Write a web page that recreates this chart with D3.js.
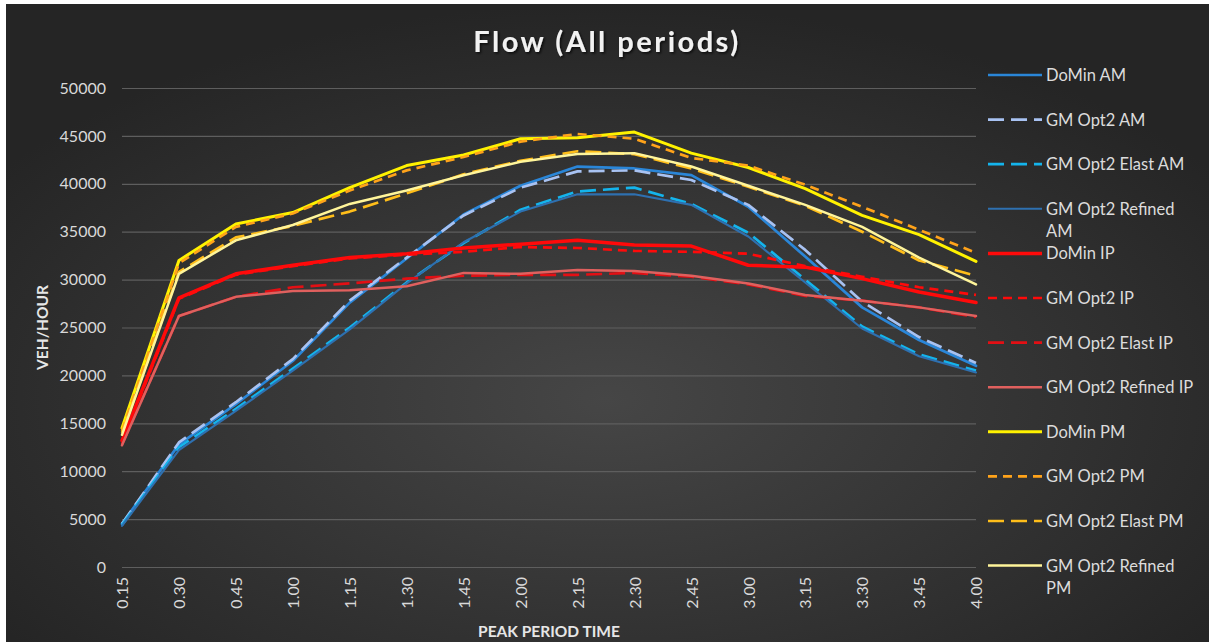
<!DOCTYPE html>
<html>
<head>
<meta charset="utf-8">
<script src="https://cdn.jsdelivr.net/npm/d3@7"></script>
<style>
  html, body { margin: 0; padding: 0; background: #ffffff; }
  svg { display: block; }
  text { font-family: Lato, "Open Sans", sans-serif; }
</style>
</head>
<body>
<svg id="chart" width="1209" height="642"></svg>
<script>
// ---------- DATA ----------
const categories = ["0.15","0.30","0.45","1.00","1.15","1.30","1.45","2.00","2.15","2.30","2.45","3.00","3.15","3.30","3.45","4.00"];
const yTicks = [0,5000,10000,15000,20000,25000,30000,35000,40000,45000,50000];

const seriesNames = ["DoMin AM","GM Opt2 AM","GM Opt2 Elast AM","GM Opt2 Refined AM",
                     "DoMin IP","GM Opt2 IP","GM Opt2 Elast IP","GM Opt2 Refined IP",
                     "DoMin PM","GM Opt2 PM","GM Opt2 Elast PM","GM Opt2 Refined PM"];

const doMinAM      = [4500,12800,17000,21500,27600,32200,36800,39800,41800,41600,40900,37600,32400,27100,23700,21000];
const opt2AM       = [4500,13000,17200,21700,27800,32300,36700,39600,41300,41400,40400,37800,33100,27700,24000,21300];
const opt2ElastAM  = [4400,12500,16500,20700,25000,29700,33800,37300,39200,39600,37900,34900,30000,25100,22200,20500];
const opt2RefAM    = [4300,12200,16300,20500,24800,29600,33900,37100,38900,38900,37800,34500,29700,24900,22000,20300];

const doMinIP      = [13200,28100,30600,31500,32300,32700,33300,33700,34100,33600,33500,31500,31300,30100,28700,27600];
const opt2IP       = [13000,28000,30500,31400,32200,32600,32900,33400,33300,33000,32900,32700,31400,30300,29200,28400];
const opt2ElastIP  = [12800,26200,28200,29200,29600,30100,30400,30500,30500,30700,30300,29500,28300,27800,27100,26100];
const opt2RefIP    = [12700,26200,28200,28800,28900,29300,30700,30600,31000,30900,30400,29600,28400,27800,27100,26200];

const doMinPM      = [14500,32000,35800,37000,39600,41900,43000,44700,44800,45400,43200,41700,39500,36700,34700,31900];
const opt2PM       = [14200,31700,35500,36900,39300,41400,42800,44400,45200,44700,42700,41900,39900,37600,35200,32800];
const opt2ElastPM  = [14000,30800,34400,35600,37100,39000,41000,42400,43400,43100,41600,39700,37700,35000,32000,30400];
const opt2RefPM    = [13800,30600,34100,35700,37900,39300,40900,42300,43100,43200,41800,39800,37800,35500,32300,29500];

const seriesValues = [doMinAM, opt2AM, opt2ElastAM, opt2RefAM,
                      doMinIP, opt2IP, opt2ElastIP, opt2RefIP,
                      doMinPM, opt2PM, opt2ElastPM, opt2RefPM];

// ---------- STYLES ----------
const styles = [
  {color:"#2A86D8", width:2.7, dash:null},
  {color:"#A8C2F2", width:2.7, dash:"16,7"},
  {color:"#14B4EC", width:2.7, dash:"16,7"},
  {color:"#2E70B0", width:2.1, dash:null},
  {color:"#FF0A0A", width:3.5, dash:null},
  {color:"#FF0A0A", width:2.7, dash:"9,6"},
  {color:"#E30F14", width:2.7, dash:"16,7"},
  {color:"#E0605E", width:2.5, dash:null},
  {color:"#FFF200", width:3.0, dash:null},
  {color:"#FFA31A", width:2.7, dash:"9,6"},
  {color:"#FFBE1A", width:2.7, dash:"16,7"},
  {color:"#FFF59A", width:2.5, dash:null}
];

// ---------- CHART ----------
const svg = d3.select("#chart");
const W = 1209, H = 642;
const plot = {left:122, right:976, top:88, bottom:567};

const defs = svg.append("defs");
const grad = defs.append("radialGradient").attr("id","bg")
  .attr("cx","50%").attr("cy","62%").attr("r","62%");
grad.append("stop").attr("offset","0%").attr("stop-color","#464646");
grad.append("stop").attr("offset","100%").attr("stop-color","#252525");
const shadow = defs.append("filter").attr("id","tshadow").attr("x","-10%").attr("y","-30%").attr("width","120%").attr("height","160%");
shadow.append("feDropShadow").attr("dx",1.5).attr("dy",1.5).attr("stdDeviation",1.2).attr("flood-color","#000").attr("flood-opacity",0.7);

svg.append("rect").attr("x",0).attr("y",0).attr("width",W).attr("height",H).attr("fill","#ffffff");
svg.append("rect").attr("x",6).attr("y",4).attr("width",W-6).attr("height",H-4).attr("fill","url(#bg)");

const x = d3.scalePoint().domain(categories).range([plot.left, plot.right]);
const y = d3.scaleLinear().domain([0,50000]).range([plot.bottom, plot.top]);

// gridlines
const grid = svg.append("g").attr("transform",`translate(${plot.left},0)`)
  .call(d3.axisLeft(y).tickValues(yTicks).tickSize(-(plot.right-plot.left)).tickFormat(""));
grid.select(".domain").remove();
grid.selectAll("line").attr("stroke","#5e5e5e").attr("stroke-width",1.2);

// y labels
const yAxis = svg.append("g").attr("transform",`translate(${plot.left},0)`)
  .call(d3.axisLeft(y).tickValues(yTicks).tickSize(0).tickPadding(16).tickFormat(d3.format("d")));
yAxis.select(".domain").remove();
yAxis.selectAll("text").attr("fill","#d9d9d9").style("font-size","16px").style("font-family","Lato, sans-serif");

// x labels
const xAxis = svg.append("g").attr("transform",`translate(0,${plot.bottom})`)
  .call(d3.axisBottom(x).tickSize(0));
xAxis.select(".domain").remove();
xAxis.selectAll("text")
  .attr("fill","#d9d9d9").style("font-size","16px").style("font-family","Lato, sans-serif")
  .attr("text-anchor","end")
  .attr("transform","rotate(-90)")
  .attr("x",-10).attr("y",0).attr("dy","0.36em");

// lines
const line = d3.line().x((d,i)=>x(categories[i])).y(d=>y(d));
const gLines = svg.append("g");
seriesValues.forEach((vals,i)=>{
  const s = styles[i];
  gLines.append("path").datum(vals)
    .attr("d", line)
    .attr("fill","none")
    .attr("stroke", s.color)
    .attr("stroke-width", s.width)
    .attr("stroke-linejoin","round")
    .attr("stroke-linecap", s.dash ? "butt" : "round")
    .attr("stroke-dasharray", s.dash);
});

// title
svg.append("text").attr("x",607).attr("y",52).attr("text-anchor","middle")
  .attr("fill","#f2f2f2").style("font-size","29px").style("font-weight","bold")
  .style("letter-spacing","2.5px").attr("filter","url(#tshadow)")
  .text("Flow (All periods)");

// axis titles
svg.append("text").attr("x",(plot.left+plot.right)/2).attr("y",637).attr("text-anchor","middle")
  .attr("fill","#e6e6e6").style("font-size","15.5px").style("font-weight","bold")
  .text("PEAK PERIOD TIME");
svg.append("text").attr("transform",`translate(48,${(plot.top+plot.bottom)/2}) rotate(-90)`)
  .attr("text-anchor","middle")
  .attr("fill","#e6e6e6").style("font-size","15.5px").style("font-weight","bold")
  .text("VEH/HOUR");

// legend
const legendWrap = {"GM Opt2 Refined AM":["GM Opt2 Refined","AM"],"GM Opt2 Refined PM":["GM Opt2 Refined","PM"]};
const legend = svg.append("g");
seriesNames.forEach((name,i)=>{
  const ly = 75 + i*44.6;
  const s = styles[i];
  legend.append("line").attr("x1",988).attr("x2",1042).attr("y1",ly).attr("y2",ly)
    .attr("stroke",s.color).attr("stroke-width",s.width).attr("stroke-dasharray",s.dash);
  const lines = legendWrap[name] || [name];
  const t = legend.append("text").attr("x",1046).attr("y",ly)
    .attr("fill","#dcdcdc").style("font-size","16.5px");
  lines.forEach((ln,j)=>{
    t.append("tspan").attr("x",1046).attr("dy", j===0 ? "0.36em" : "22px").text(ln);
  });
});
</script>
</body>
</html>
